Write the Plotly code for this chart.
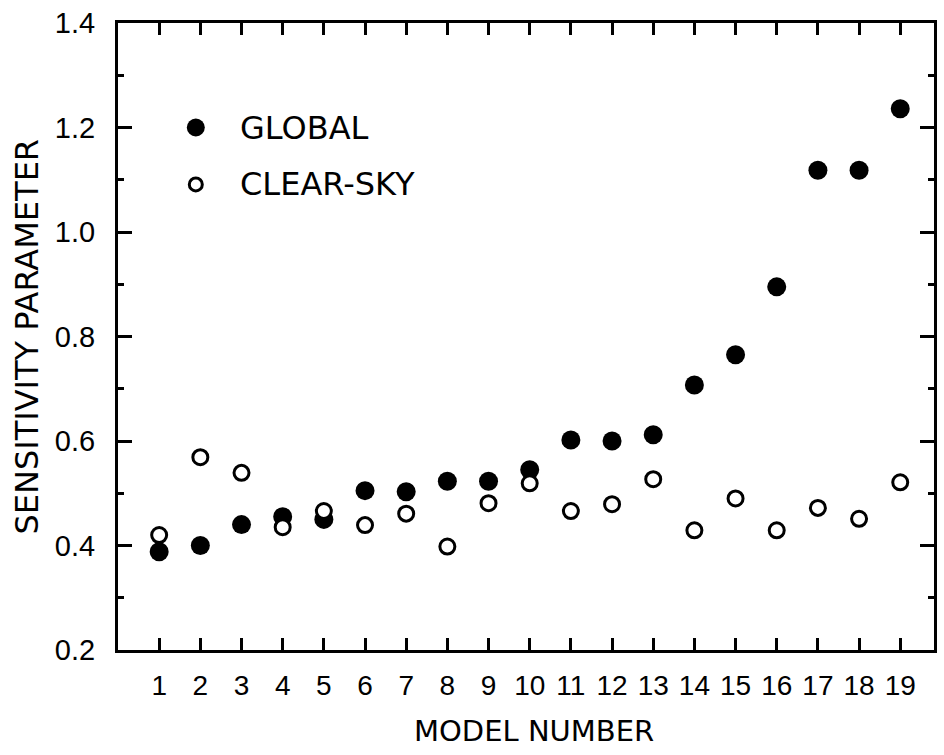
import plotly.graph_objects as go

# Sensitivity parameter for each of the 19 models
model_number = list(range(1, 20))
global_values = [0.388, 0.400, 0.440, 0.455, 0.450, 0.505, 0.503, 0.523, 0.523, 0.545,
                 0.602, 0.600, 0.612, 0.707, 0.765, 0.895, 1.118, 1.118, 1.236]
clear_sky_values = [0.420, 0.569, 0.539, 0.435, 0.466, 0.439, 0.461, 0.398, 0.481, 0.519,
                    0.466, 0.479, 0.527, 0.429, 0.490, 0.429, 0.472, 0.451, 0.521]

y_tick_values = [0.2, 0.4, 0.6, 0.8, 1.0, 1.2, 1.4]
y_tick_labels = ["0.2", "0.4", "0.6", "0.8", "1.0", "1.2", "1.4"]

TITLE_FONT = "DejaVu Sans"
TICK_FONT = "Liberation Sans"

fig = go.Figure()

fig.add_trace(go.Scatter(
    x=model_number, y=global_values, mode="markers", name="GLOBAL",
    marker=dict(symbol="circle", size=19, color="black", line=dict(width=0)),
    showlegend=False,
))
fig.add_trace(go.Scatter(
    x=model_number, y=clear_sky_values, mode="markers", name="CLEAR-SKY",
    marker=dict(symbol="circle", size=15, color="white", line=dict(width=3, color="black")),
    showlegend=False,
))

# Key in the upper-left corner of the plot
key_x = 1.89
key_rows = [("GLOBAL", 1.2, True), ("CLEAR-SKY", 1.091, False)]
for label, ky, filled in key_rows:
    r = 9 if filled else 6.5
    fig.add_shape(
        type="circle", xref="x", yref="y", xsizemode="pixel", ysizemode="pixel",
        xanchor=key_x, yanchor=ky, x0=-r, x1=r, y0=-r, y1=r,
        fillcolor="black" if filled else "white",
        line=dict(color="black", width=0 if filled else 3),
    )
    fig.add_annotation(
        x=key_x, y=ky, xref="x", yref="y", text=label, showarrow=False,
        xanchor="left", yanchor="middle", xshift=42,
        font=dict(family=TITLE_FONT, size=32, color="black"),
    )

# Axis titles
fig.add_annotation(
    x=0.5, y=0, xref="paper", yref="paper", text="MODEL NUMBER", showarrow=False,
    xanchor="center", yanchor="middle", yshift=-81, xshift=8,
    font=dict(family=TITLE_FONT, size=29, color="black"),
)
fig.add_annotation(
    x=0, y=0.5, xref="paper", yref="paper", text="SENSITIVITY PARAMETER", showarrow=False,
    xanchor="center", yanchor="middle", xshift=-92, textangle=-90,
    font=dict(family=TITLE_FONT, size=32, color="black"),
)

fig.update_xaxes(
    range=[0, 19.82], tickmode="array", tickvals=model_number,
    ticktext=[str(n) for n in model_number],
    ticks="inside", ticklen=12, tickwidth=2.5, tickcolor="black",
    showline=True, linewidth=3, linecolor="black", mirror="ticks",
    showgrid=False, zeroline=False, ticklabelstandoff=8,
    tickfont=dict(family=TICK_FONT, size=28, color="black"),
)
fig.update_yaxes(
    range=[0.2, 1.4], tickmode="array", tickvals=y_tick_values, ticktext=y_tick_labels,
    ticks="inside", ticklen=14, tickwidth=2.5, tickcolor="black",
    minor=dict(dtick=0.1, ticks="inside", ticklen=6, tickwidth=2.5, tickcolor="black"),
    showline=True, linewidth=3, linecolor="black", mirror="ticks",
    showgrid=False, zeroline=False, ticklabelstandoff=14,
    tickfont=dict(family=TICK_FONT, size=29, color="black"),
)

fig.update_layout(
    width=944, height=755,
    margin=dict(l=118, r=7, t=20, b=105),
    paper_bgcolor="white", plot_bgcolor="white",
)

fig.write_html("out.html")
